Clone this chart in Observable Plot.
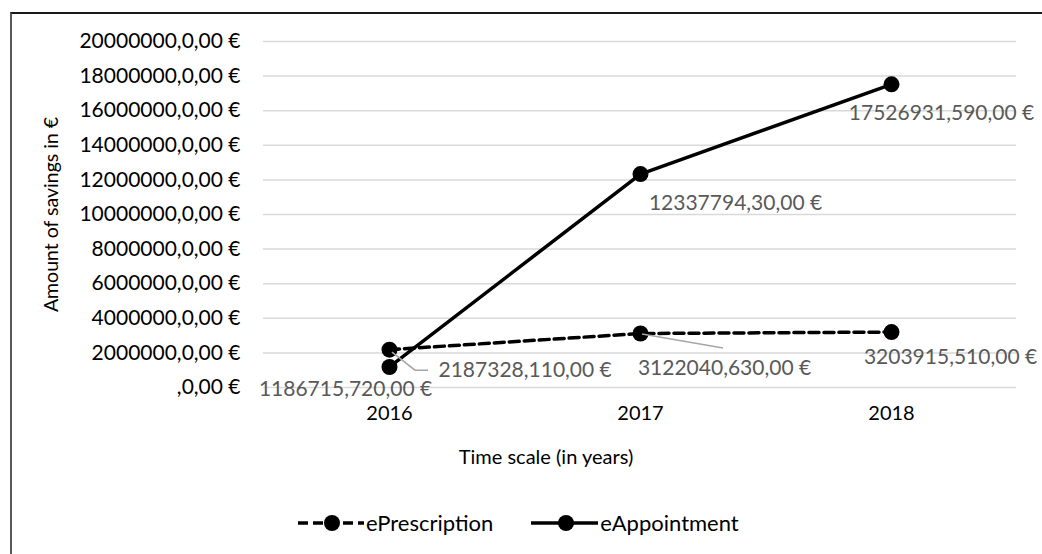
<!DOCTYPE html>
<html>
<head>
<meta charset="utf-8">
<script src="https://cdn.jsdelivr.net/npm/d3@7"></script>
<script src="https://cdn.jsdelivr.net/npm/@observablehq/plot@0.6"></script>
<style>
  html, body { margin: 0; padding: 0; background: #fff; width: 1042px; height: 554px; overflow: hidden; position: relative; font-family: Lato, "Open Sans", sans-serif; }
  #frame { position: absolute; left: 10px; top: 12px; width: 1100px; height: 600px; border-top: 2px solid #1a1a1a; border-left: 2px solid #595959; box-sizing: border-box; }
  #chart { position: absolute; left: 0; top: 0; }
  #legend { position: absolute; left: 298px; top: 509px; display: flex; align-items: center; font-size: 22px; color: #000; }
  #legend .item { display: flex; align-items: center; }
  #legend .item + .item { margin-left: 38px; }
  #legend span { margin-left: 2px; }
</style>
</head>
<body>
<div id="frame"></div>
<div id="chart"></div>
<div id="legend"></div>
<script>
// ---- data ----
const years = ["2016", "2017", "2018"];
const seriesNames = ["ePrescription", "eAppointment"];
const ePrescriptionValues = [2187328.11, 3122040.63, 3203915.51];
const eAppointmentValues = [1186715.72, 12337794.3, 17526931.59];
const ePrescriptionLabels = ["2187328,110,00 €", "3122040,630,00 €", "3203915,510,00 €"];
const eAppointmentLabels = ["1186715,720,00 €", "12337794,30,00 €", "17526931,590,00 €"];
const yTicks = [0, 2000000, 4000000, 6000000, 8000000, 10000000, 12000000, 14000000, 16000000, 18000000, 20000000];
const yTickLabels = [",0,00 €", "2000000,0,00 €", "4000000,0,00 €", "6000000,0,00 €", "8000000,0,00 €", "10000000,0,00 €", "12000000,0,00 €", "14000000,0,00 €", "16000000,0,00 €", "18000000,0,00 €", "20000000,0,00 €"];
const xTitle = "Time scale (in years)";
const yTitle = "Amount of savings in €";

// ---- tables ----
const presRows = years.map((y, i) => ({year: y, value: ePrescriptionValues[i], label: ePrescriptionLabels[i]}));
const apptRows = years.map((y, i) => ({year: y, value: eAppointmentValues[i], label: eAppointmentLabels[i]}));
const tickLabelOf = new Map(yTicks.map((t, i) => [t, yTickLabels[i]]));

// label placement (style: pixel offsets from each point)
const presLabelStyle = [
  {dx: 49, dy: 21, textAnchor: "start"},
  {dx: 84, dy: 35, textAnchor: "middle"},
  {dx: 59, dy: 25, textAnchor: "middle"}
];
const apptLabelStyle = [
  {dx: -44, dy: 22, textAnchor: "middle"},
  {dx: 95, dy: 29, textAnchor: "middle"},
  {dx: 50, dy: 29, textAnchor: "middle"}
];

const labelMarks = [
  ...presRows.map((r, i) => Plot.text([r], {x: "year", y: "value", text: "label", fill: "#595959", fontSize: 21, lineAnchor: "middle", ...presLabelStyle[i]})),
  ...apptRows.map((r, i) => Plot.text([r], {x: "year", y: "value", text: "label", fill: "#595959", fontSize: 21, lineAnchor: "middle", ...apptLabelStyle[i]}))
];

const chart = Plot.plot({
  width: 1042,
  height: 480,
  marginLeft: 263,
  marginRight: 26,
  marginTop: 41,
  marginBottom: 93,
  style: {fontFamily: "Lato, 'Open Sans', sans-serif", fontSize: "20px", color: "#000", background: "transparent", overflow: "visible"},
  x: {type: "point", domain: years, padding: 0.5},
  y: {domain: [0, 20000000]},
  marks: [
    Plot.gridY(yTicks, {stroke: "#d9d9d9", strokeOpacity: 1, strokeWidth: 1.5}),
    Plot.axisY(yTicks, {tickSize: 0, tickPadding: 23, tickFormat: d => tickLabelOf.get(d), fontSize: 21, fill: "#000", label: null}),
    Plot.axisX({tickSize: 0, tickPadding: 18, fontSize: 20, fill: "#000", label: null}),
    Plot.text([yTitle], {frameAnchor: "left", dx: -212, rotate: -90, fontSize: 19.5, fill: "#000", lineAnchor: "middle", textAnchor: "middle"}),
    Plot.text([xTitle], {frameAnchor: "bottom", dx: -94, dy: 70, fontSize: 20, fill: "#000", lineAnchor: "middle", textAnchor: "middle"}),
    Plot.line(presRows, {x: "year", y: "value", stroke: "#000", strokeWidth: 3.5, strokeDasharray: "10,5"}),
    Plot.dot(presRows, {x: "year", y: "value", r: 8, fill: "#000"}),
    Plot.line(apptRows, {x: "year", y: "value", stroke: "#000", strokeWidth: 3.5}),
    Plot.dot(apptRows, {x: "year", y: "value", r: 8, fill: "#000"}),
    ...labelMarks
  ]
});

// leader lines for two ePrescription labels, positioned through the chart's scales
const sx = chart.scale("x"), sy = chart.scale("y");
const leaders = [
  {row: presRows[0], pts: [[3, 3], [26, 21], [39, 21]]},
  {row: presRows[1], pts: [[2, 1], [83, 15]]}
];
const svgSel = d3.select(chart);
for (const L of leaders) {
  const px = sx.apply(L.row.year), py = sy.apply(L.row.value);
  svgSel.append("path")
    .attr("d", d3.line()(L.pts.map(([a, b]) => [px + a, py + b])))
    .attr("fill", "none").attr("stroke", "#a6a6a6").attr("stroke-width", 1.5);
}
document.getElementById("chart").appendChild(chart);

// legend
const legend = d3.select("#legend");
const legendStyles = [
  {name: seriesNames[0], dash: "10,5", w: 66, cx: 34},
  {name: seriesNames[1], dash: null, w: 67, cx: 35}
];
for (const s of legendStyles) {
  const item = legend.append("div").attr("class", "item");
  const sv = item.append("svg").attr("width", s.w).attr("height", 24);
  sv.append("line").attr("x1", 0).attr("x2", s.w).attr("y1", 12).attr("y2", 12)
    .attr("stroke", "#000").attr("stroke-width", 3.5).attr("stroke-dasharray", s.dash);
  sv.append("circle").attr("cx", s.cx).attr("cy", 12).attr("r", 8).attr("fill", "#000");
  item.append("span").text(s.name);
}
</script>
</body>
</html>
